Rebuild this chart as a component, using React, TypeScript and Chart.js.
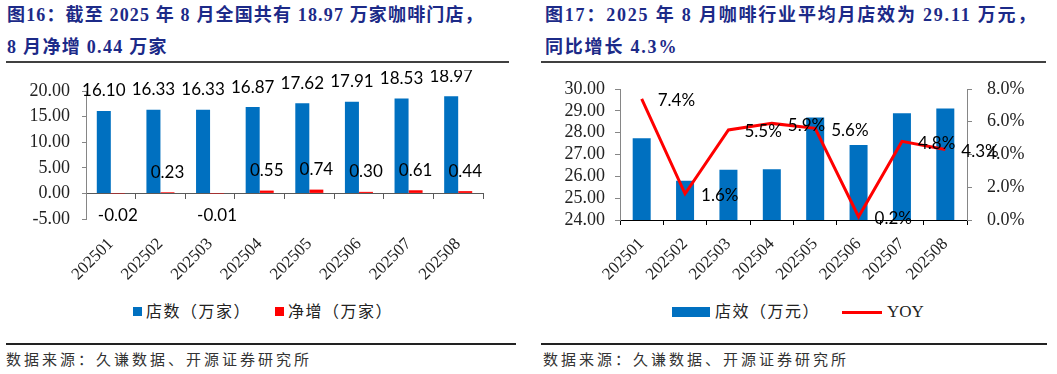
import React, { useEffect, useRef } from "react";
import { Chart, registerables } from "chart.js";
Chart.register(...registerables);

const months = ["202501", "202502", "202503", "202504", "202505", "202506", "202507", "202508"];
const storeCount = [16.1, 16.33, 16.33, 16.87, 17.62, 17.91, 18.53, 18.97];
const netAdd = [-0.02, 0.23, -0.01, 0.55, 0.74, 0.3, 0.61, 0.44];
const storeEff = [27.75, 25.8, 26.3, 26.32, 28.7, 27.43, 28.89, 29.11];
const yoyPct = [7.4, 1.6, 5.5, 5.9, 5.6, 0.2, 4.8, 4.3];

const BLUE = "#0070C0";
const RED = "#FF0000";
const TITLE_COLOR = "#1c2a88";
const SERIF = '"Liberation Serif", "Noto Sans CJK SC", serif';
const LABEL_FONT = '17px Lato, "Liberation Sans", sans-serif';
const AXIS_GRAY = "#868686";

const noPadY = (w: number) => (s: any) => {
  s.width = w;
  s.paddingTop = 0;
  s.paddingBottom = 0;
};

function LeftChart() {
  const ref = useRef<HTMLCanvasElement | null>(null);
  useEffect(() => {
    if (!ref.current) return;
    const labelPlugin = {
      id: "leftLabels",
      afterDatasetsDraw(chart: any) {
        const ctx = chart.ctx;
        ctx.save();
        ctx.font = LABEL_FONT;
        ctx.fillStyle = "#000";
        ctx.textAlign = "center";
        ctx.textBaseline = "middle";
        chart.data.datasets.forEach((ds: any, i: number) => {
          const meta = chart.getDatasetMeta(i);
          meta.data.forEach((el: any, j: number) => {
            const v = ds.data[j] as number;
            const y = v >= 0 ? el.y - 20 : el.y + 22;
            ctx.fillText(v.toFixed(2), el.x, y);
          });
        });
        ctx.restore();
      },
    };
    const chart = new Chart(ref.current, {
      type: "bar",
      data: {
        labels: months,
        datasets: [
          { label: "店数（万家）", data: storeCount, backgroundColor: BLUE, categoryPercentage: 0.565, barPercentage: 1 },
          { label: "净增（万家）", data: netAdd, backgroundColor: RED, categoryPercentage: 0.565, barPercentage: 1 },
        ],
      },
      options: {
        responsive: false,
        animation: false,
        devicePixelRatio: 1,
        layout: { padding: { top: 21, right: 45, left: 0, bottom: 0 } },
        plugins: { legend: { display: false }, tooltip: { enabled: false } },
        scales: {
          x: {
            offset: true,
            grid: { display: false, drawTicks: false },
            border: { display: false },
            ticks: {
              maxRotation: 45,
              minRotation: 45,
              autoSkip: false,
              padding: 15,
              color: "#222",
              font: { family: SERIF, size: 17 },
            },
            afterFit: (s: any) => {
              s.height = 81;
            },
          },
          x0: {
            type: "category",
            axis: "x",
            position: { y: 0 },
            offset: true,
            grid: { display: true, offset: true, drawOnChartArea: false, drawTicks: true, tickLength: 5, color: "#595959" },
            border: { display: true, color: "#595959", width: 1 },
            ticks: { display: false },
          },
          y: {
            min: -5,
            max: 20,
            ticks: {
              stepSize: 5,
              autoSkip: false,
              padding: 12,
              color: "#222",
              font: { family: SERIF, size: 18 },
              callback: (v: any) => Number(v).toFixed(2),
            },
            grid: { drawOnChartArea: false, drawTicks: true, tickLength: 4, color: AXIS_GRAY },
            border: { display: true, color: AXIS_GRAY },
            afterFit: noPadY(86),
          },
        },
      } as any,
      plugins: [labelPlugin],
    });
    return () => chart.destroy();
  }, []);
  return <canvas ref={ref} width={528} height={230} style={{ position: "absolute", left: 0, top: 70 }} />;
}

function RightChart() {
  const ref = useRef<HTMLCanvasElement | null>(null);
  useEffect(() => {
    if (!ref.current) return;
    const labelPlugin = {
      id: "rightLabels",
      afterDatasetsDraw(chart: any) {
        const ctx = chart.ctx;
        ctx.save();
        ctx.font = LABEL_FONT;
        ctx.fillStyle = "#000";
        ctx.textAlign = "left";
        ctx.textBaseline = "middle";
        const meta = chart.getDatasetMeta(1);
        meta.data.forEach((el: any, j: number) => {
          const v = yoyPct[j];
          ctx.fillText(v.toFixed(1) + "%", el.x + 16, el.y + 2);
        });
        ctx.restore();
      },
    };
    const chart = new Chart(ref.current, {
      type: "bar",
      data: {
        labels: months,
        datasets: [
          { type: "bar", label: "店效（万元）", data: storeEff, backgroundColor: BLUE, yAxisID: "y", categoryPercentage: 1, barPercentage: 0.415, order: 2 },
          { type: "line", label: "YOY", data: yoyPct, borderColor: RED, backgroundColor: RED, borderWidth: 3, pointRadius: 0, tension: 0, yAxisID: "y1", order: 1 },
        ],
      },
      options: {
        responsive: false,
        animation: false,
        devicePixelRatio: 1,
        layout: { padding: { top: 19, right: 0, left: 0, bottom: 0 } },
        plugins: { legend: { display: false }, tooltip: { enabled: false } },
        scales: {
          x: {
            offset: true,
            grid: { display: true, offset: true, drawOnChartArea: false, drawTicks: true, tickLength: 5, color: "#000" },
            border: { display: true, color: "#000" },
            ticks: {
              maxRotation: 45,
              minRotation: 45,
              autoSkip: false,
              padding: 9,
              color: "#222",
              font: { family: SERIF, size: 17 },
            },
            afterFit: (s: any) => {
              s.height = 80;
            },
          },
          y: {
            position: "left",
            min: 24,
            max: 30,
            ticks: {
              stepSize: 1,
              autoSkip: false,
              padding: 10,
              color: "#222",
              font: { family: SERIF, size: 18 },
              callback: (v: any) => Number(v).toFixed(2),
            },
            grid: { drawOnChartArea: false, drawTicks: true, tickLength: 5, color: AXIS_GRAY },
            border: { display: true, color: AXIS_GRAY },
            afterFit: noPadY(90),
          },
          y1: {
            position: "right",
            min: 0,
            max: 8,
            ticks: {
              stepSize: 2,
              autoSkip: false,
              padding: 15,
              color: "#222",
              font: { family: SERIF, size: 18 },
              callback: (v: any) => Number(v).toFixed(1) + "%",
            },
            grid: { drawOnChartArea: false, drawTicks: true, tickLength: 5, color: AXIS_GRAY },
            border: { display: true, color: AXIS_GRAY },
            afterFit: noPadY(90),
          },
        },
      } as any,
      plugins: [labelPlugin],
    });
    return () => chart.destroy();
  }, []);
  return <canvas ref={ref} width={527} height={230} style={{ position: "absolute", left: 530, top: 70 }} />;
}

const abs = (left: number, top: number, extra: any = {}) => ({ position: "absolute" as const, left, top, whiteSpace: "nowrap" as const, ...extra });

const titleBase = {
  fontFamily: SERIF,
  fontWeight: 700,
  fontSize: 18,
  lineHeight: "20px",
  color: TITLE_COLOR,
};
const legendText = { fontFamily: SERIF, fontSize: 16, lineHeight: "20px", color: "#222", letterSpacing: "1.5px" };
const footText = { fontFamily: SERIF, fontSize: 15, lineHeight: "20px", color: "#333", letterSpacing: "3px" };

export default function App() {
  return (
    <div style={{ position: "absolute", left: 0, top: 0, width: 1057, height: 374, background: "#fff", overflow: "hidden" }}>
      <div style={abs(7, 5, { ...titleBase, letterSpacing: "1.15px" })}>图16：截至 2025 年 8 月全国共有 18.97 万家咖啡门店，</div>
      <div style={abs(7, 37, { ...titleBase, letterSpacing: "1.3px" })}>8 月净增 0.44 万家</div>
      <div style={abs(6, 61, { width: 503, height: 2, background: "#404040" })} />
      <div style={abs(545, 5, { ...titleBase, letterSpacing: "1.8px" })}>图17：2025 年 8 月咖啡行业平均月店效为 29.11 万元，</div>
      <div style={abs(545, 37, { ...titleBase, letterSpacing: "1.8px" })}>同比增长 4.3%</div>
      <div style={abs(541, 61, { width: 505, height: 2, background: "#404040" })} />

      <LeftChart />
      <RightChart />

      <div style={abs(133, 307, { width: 9, height: 9, background: BLUE })} />
      <div style={abs(146, 302, legendText)}>店数（万家）</div>
      <div style={abs(275, 307, { width: 9, height: 9, background: RED })} />
      <div style={abs(288, 302, legendText)}>净增（万家）</div>

      <div style={abs(672, 307, { width: 38, height: 10, background: BLUE })} />
      <div style={abs(715, 302, legendText)}>店效（万元）</div>
      <div style={abs(842, 311, { width: 40, height: 3, background: RED })} />
      <div style={abs(887, 302, { ...legendText, fontSize: 17, letterSpacing: "0px" })}>YOY</div>

      <div style={abs(6, 343, { width: 510, height: 1.5, background: "#222" })} />
      <div style={abs(6, 350, footText)}>数据来源：久谦数据、开源证券研究所</div>
      <div style={abs(541, 343, { width: 506, height: 1.5, background: "#222" })} />
      <div style={abs(543, 350, footText)}>数据来源：久谦数据、开源证券研究所</div>
    </div>
  );
}
